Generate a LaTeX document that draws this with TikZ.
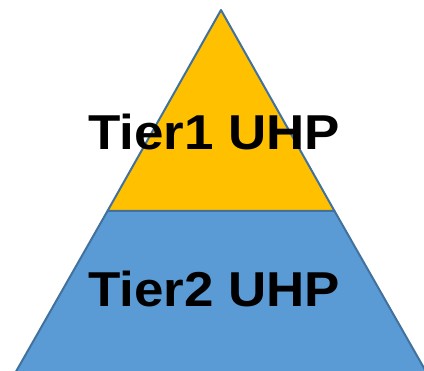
\documentclass[tikz,border=0pt]{standalone}
\usepackage{fontspec}
\setmainfont{Liberation Sans}
\newfontfamily\tierfont[FakeStretch=1.08]{Liberation Sans}
\usepackage{tikz}
\definecolor{tiergold}{RGB}{255, 192, 0}
\definecolor{tierblue}{RGB}{91, 155, 213}
\definecolor{edgeblue}{RGB}{65, 113, 156}
\begin{document}
\begin{tikzpicture}[
  x=1pt, y=-1pt,
  tierlabel/.style={anchor=base, inner sep=0pt, font=\tierfont\fontsize{49}{55}\selectfont\bfseries, text=black},
  tieredge/.style={draw=edgeblue, line width=2pt, line join=round}
]
\useasboundingbox (0,0) rectangle (424,371);
\clip (0,0) rectangle (424,371);

% apex, split line and base points
\coordinate (apex) at (221,10);
\coordinate (midL) at (107.5,211);
\coordinate (midR) at (334.5,211);
\coordinate (baseL) at (5.5,390);
\coordinate (baseR) at (436.5,390);

% lower tier
\draw[tieredge, fill=tierblue] (midL) -- (midR) -- (baseR) -- (baseL) -- cycle;
% upper tier
\draw[tieredge, fill=tiergold] (apex) -- (midR) -- (midL) -- cycle;

% labels
\node[tierlabel] (tier1) at (214,150) {Tier1 UHP};
\node[tierlabel] (tier2) at (214,307) {Tier2 UHP};

\end{tikzpicture}
\end{document}
